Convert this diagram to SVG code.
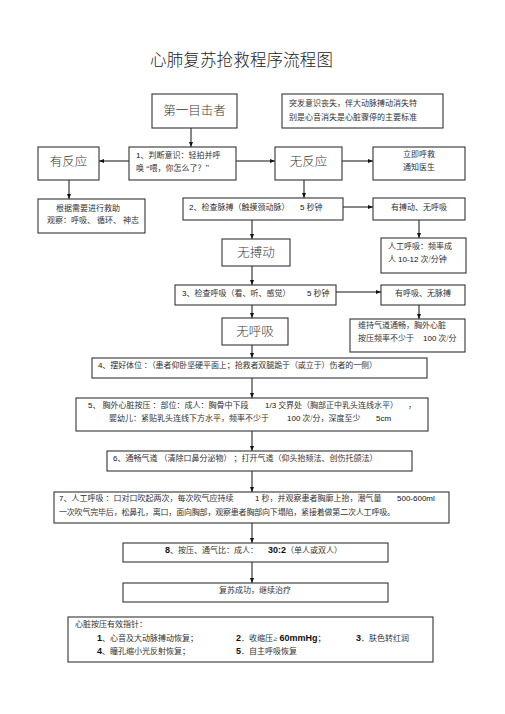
<svg xmlns="http://www.w3.org/2000/svg" width="505" height="714" viewBox="0 0 505 714">
<defs>
<marker id="arr" viewBox="0 0 10 10" refX="10" refY="5" markerWidth="5" markerHeight="5" orient="auto" markerUnits="userSpaceOnUse">
<path d="M0,1 L10,5 L0,9 Z" fill="#111"/>
</marker>
<style>
.box{fill:#fff;stroke:#333;stroke-width:1.1}
.t{font-family:"Liberation Serif","Noto Sans CJK SC",serif;font-size:8px;fill:#333}
.n{font-family:"Liberation Sans","Noto Sans CJK SC",sans-serif;font-size:8px;fill:#111}
.b{font-family:"Liberation Sans","Noto Sans CJK SC",sans-serif;font-size:9px;font-weight:bold;fill:#111}
.big{font-family:"Noto Sans CJK SC",sans-serif;font-size:12.5px;font-weight:300;fill:#3a3a3a;text-anchor:middle}
.title{font-family:"Noto Sans CJK SC",sans-serif;font-size:16.5px;font-weight:300;fill:#222}
.c{text-anchor:middle}
.ln{stroke:#111;stroke-width:1;fill:none}
</style>
</defs>
<rect width="505" height="714" fill="#fff"/>
<text class="title" x="150" y="66" textLength="183">心肺复苏抢救程序流程图</text>

<g id="connectors">
<line class="ln" x1="191" y1="128" x2="191" y2="147" marker-end="url(#arr)"/>
<line class="ln" x1="129" y1="161" x2="99" y2="161" marker-end="url(#arr)"/>
<line class="ln" x1="236" y1="161" x2="275" y2="161" marker-end="url(#arr)"/>
<line class="ln" x1="342" y1="161" x2="373" y2="161" marker-end="url(#arr)"/>
<line class="ln" x1="69" y1="180" x2="69" y2="199" marker-end="url(#arr)"/>
<line class="ln" x1="304" y1="180" x2="304" y2="198" marker-end="url(#arr)"/>
<line class="ln" x1="343" y1="207" x2="373" y2="207" marker-end="url(#arr)"/>
<line class="ln" x1="252" y1="220" x2="252" y2="239" marker-end="url(#arr)"/>
<line class="ln" x1="419" y1="220" x2="419" y2="238" marker-end="url(#arr)"/>
<line class="ln" x1="252" y1="266" x2="252" y2="285" marker-end="url(#arr)"/>
<line class="ln" x1="336" y1="292" x2="381" y2="292" marker-end="url(#arr)"/>
<line class="ln" x1="252" y1="305" x2="252" y2="318" marker-end="url(#arr)"/>
<line class="ln" x1="419" y1="305" x2="419" y2="319" marker-end="url(#arr)"/>
<line class="ln" x1="252" y1="345" x2="252" y2="358" marker-end="url(#arr)"/>
<line class="ln" x1="252" y1="378" x2="252" y2="398" marker-end="url(#arr)"/>
<line class="ln" x1="252" y1="431" x2="252" y2="451" marker-end="url(#arr)"/>
<line class="ln" x1="252" y1="471" x2="252" y2="492" marker-end="url(#arr)"/>
<line class="ln" x1="252" y1="523" x2="252" y2="543" marker-end="url(#arr)"/>
<line class="ln" x1="252" y1="562" x2="252" y2="583" marker-end="url(#arr)"/>
</g>

<g id="witness">
<rect class="box" x="152" y="94" width="85" height="34"/>
<text class="big" x="194.5" y="115" font-size="12">第一目击者</text>
</g>
<g id="note-sudden">
<rect class="box" x="282" y="94" width="161" height="34"/>
<text class="t" x="289" y="106" textLength="128">突发意识丧失，伴大动脉搏动消失特</text>
<text class="t" x="289" y="120" textLength="128">别是心音消失是心脏骤停的主要标准</text>
</g>
<g id="step1">
<rect class="box" x="129" y="147" width="107" height="33"/>
<text class="t" x="136" y="158"><tspan class="n">1</tspan>、判断意识：轻拍并呼</text>
<text class="t" x="136" y="171">唤 “喂，你怎么了？”</text>
</g>
<g id="responsive">
<rect class="box" x="38" y="147" width="61" height="33"/>
<text class="big" x="68.5" y="166">有反应</text>
</g>
<g id="unresponsive">
<rect class="box" x="275" y="147" width="67" height="33"/>
<text class="big" x="308.5" y="166">无反应</text>
</g>
<g id="call-help">
<rect class="box" x="373" y="147" width="92" height="33"/>
<text class="t c" x="419" y="157">立即呼救</text>
<text class="t c" x="419" y="170">通知医生</text>
</g>
<g id="assist">
<rect class="box" x="38" y="199" width="107" height="34"/>
<text class="t" x="56" y="211">根据需要进行救助</text>
<text class="t" x="47" y="223">观察：呼吸、 循环、 神志</text>
</g>
<g id="step2">
<rect class="box" x="183" y="198" width="160" height="22"/>
<text class="t" x="189" y="210"><tspan class="n">2</tspan>、检查脉搏（触摸颈动脉）</text>
<text class="t" x="300" y="210"><tspan class="n">5</tspan> 秒钟</text>
</g>
<g id="pulse-nobreath">
<rect class="box" x="373" y="198" width="92" height="22"/>
<text class="t c" x="419" y="210">有搏动、无呼吸</text>
</g>
<g id="no-pulse">
<rect class="box" x="222" y="239" width="68" height="27"/>
<text class="big" x="256" y="257">无搏动</text>
</g>
<g id="rescue-breath">
<rect class="box" x="381" y="238" width="85" height="35"/>
<text class="t" x="388" y="249">人工呼吸：频率成</text>
<text class="t" x="388" y="262">人 <tspan class="n">10-12</tspan> 次/分钟</text>
</g>
<g id="step3">
<rect class="box" x="175" y="285" width="161" height="20"/>
<text class="t" x="182" y="296"><tspan class="n">3</tspan>、检查呼吸（看、听、感觉）</text>
<text class="t" x="307" y="296"><tspan class="n">5</tspan> 秒钟</text>
</g>
<g id="breath-nopulse">
<rect class="box" x="381" y="285" width="84" height="20"/>
<text class="t c" x="423" y="296">有呼吸、无脉搏</text>
</g>
<g id="no-breath">
<rect class="box" x="222" y="318" width="66" height="27"/>
<text class="big" x="255" y="336">无呼吸</text>
</g>
<g id="maintain">
<rect class="box" x="350" y="319" width="115" height="33"/>
<text class="t" x="358" y="328">维持气道通畅，胸外心脏</text>
<text class="t" x="358" y="341">按压频率不少于</text>
<text class="t" x="423" y="341"><tspan class="n">100</tspan> 次/分</text>
</g>
<g id="step4">
<rect class="box" x="92" y="358" width="335" height="20"/>
<text class="t" x="98" y="368" textLength="279"><tspan class="n">4</tspan>、摆好体位 ：（患者仰卧坚硬平面上；抢救者双腿跪于（或立于）伤者的一侧）</text>
</g>
<g id="step5">
<rect class="box" x="76" y="398" width="352" height="33"/>
<text class="t" x="88" y="408"><tspan class="n">5</tspan>、 胸外心脏按压 ：部位：成人：胸骨中下段</text>
<text class="t" x="265" y="408"><tspan class="n">1/3</tspan> 交界处（胸部正中乳头连线水平）</text>
<text class="t" x="408" y="408">，</text>
<text class="t" x="109" y="421">婴幼儿：紧贴乳头连线下方水平，频率不少于</text>
<text class="t" x="287" y="421"><tspan class="n">100</tspan> 次/分，深度至少</text>
<text class="n" x="376" y="421">5cm</text>
</g>
<g id="step6">
<rect class="box" x="107" y="451" width="305" height="20"/>
<text class="t" x="113" y="461"><tspan class="n">6</tspan>、通畅气道 （清除口鼻分泌物） ；打开气道（仰头抬颏法、创伤托颌法）</text>
</g>
<g id="step7">
<rect class="box" x="54" y="492" width="395" height="31"/>
<text class="t" x="59" y="501"><tspan class="n">7</tspan>、人工呼吸 ：口对口吹起两次，每次吹气应持续</text>
<text class="t" x="255" y="501"><tspan class="n">1</tspan> 秒，并观察患者胸廓上抬，潮气量</text>
<text class="n" x="397" y="501">500-600ml</text>
<text class="t" x="59" y="515" textLength="336">一次吹气完毕后，松鼻孔，离口，面向胸部，观察患者胸部向下塌陷，紧接着做第二次人工呼吸。</text>
</g>
<g id="step8">
<rect class="box" x="123" y="543" width="265" height="19"/>
<text class="t" x="165" y="553"><tspan class="b">8</tspan>、按压、通气比：成人：</text>
<text class="t" x="268" y="553"><tspan class="b">30:2</tspan>（单人或双人）</text>
</g>
<g id="success">
<rect class="box" x="123" y="583" width="265" height="19"/>
<text class="t c" x="255" y="593">复苏成功，继续治疗</text>
</g>
<g id="indicators">
<rect class="box" x="68" y="617" width="365" height="45"/>
<text class="t" x="75" y="627">心脏按压有效指针：</text>
<text class="t" x="97" y="641"><tspan class="b">1</tspan>、心音及大动脉搏动恢复；</text>
<text class="t" x="236" y="641"><tspan class="b">2</tspan>．收缩压≥ <tspan class="b">60mmHg</tspan>；</text>
<text class="t" x="356" y="641"><tspan class="b">3</tspan>．肤色转红润</text>
<text class="t" x="97" y="654"><tspan class="b">4</tspan>、瞳孔缩小光反射恢复；</text>
<text class="t" x="236" y="654"><tspan class="b">5</tspan>．自主呼吸恢复</text>
</g>
</svg>
